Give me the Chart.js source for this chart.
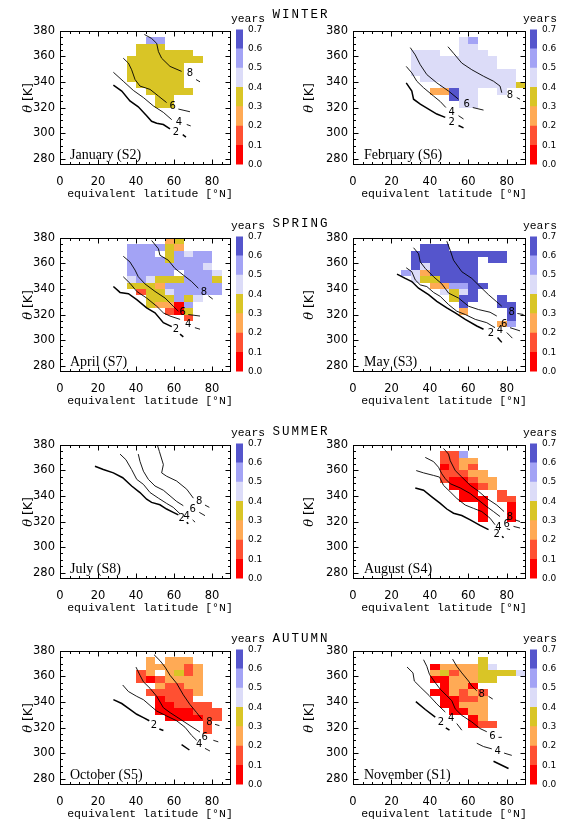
<!DOCTYPE html>
<html>
<head>
<meta charset="utf-8">
<title>Transit time by season</title>
<script src="https://cdn.jsdelivr.net/npm/chart.js@4.4.1/dist/chart.umd.min.js"></script>
<style>
  html, body { margin: 0; padding: 0; background: #fff; }
  #figure { position: relative; width: 561px; height: 820px; overflow: hidden; }
  #figure canvas { position: absolute; }
  .season, .units { position: absolute; font-family: 'Liberation Mono', monospace; color: #000; white-space: nowrap; transform: translate(-50%, -50%); }
  .season { font-size: 12.5px; letter-spacing: 2px; }
  .units { font-size: 11.3px; }
</style>
</head>
<body>
<div id="figure"></div>
<script>
// axes and colour scale
const latTicks = [0, 20, 40, 60, 80];
const thetaTicks = [280, 300, 320, 340, 360, 380];
const yearTicks = [0.0, 0.1, 0.2, 0.3, 0.4, 0.5, 0.6, 0.7];
const seasons = ['WINTER', 'SPRING', 'SUMMER', 'AUTUMN'];

// 5 deg x 5 K bins, one string per theta bin (lower edge in cellTheta),
// one character per latitude bin: band 0 = 0.0-0.1 years ... 6 = 0.6-0.7 years
const cellLat = [20, 25, 30, 35, 40, 45, 50, 55, 60, 65, 70, 75, 80, 85];
const cellTheta = [375, 370, 365, 360, 355, 350, 345, 340, 335, 330, 325, 320, 315, 310, 305, 300];

const janCells = [
  '..............',
  '.....55.......',
  '....333.......',
  '....333333....',
  '...33333333...',
  '...333333.....',
  '...333333.....',
  '...333333.....',
  '....33333.....',
  '.....33333....',
  '......33......',
  '......33......'
];
const febCells = [
  '..............',
  '.......45.....',
  '.......44.....',
  '..444..444....',
  '..444444444...',
  '..444444444...',
  '..44444444444.',
  '...4444444444.',
  '.....444444443',
  '....22644..4..',
  '......644.....',
  '.......44.....'
];
const aprCells = [
  '.......23.....',
  '...555532.....',
  '...555.35455..',
  '...555535555..',
  '...555555554..',
  '...55555.5554.',
  '...4543335553.',
  '...3332555555.',
  '....133455555.',
  '.....333534...',
  '.....32205....',
  '.......103....',
  '.........1....'
];
const mayCells = [
  '..............',
  '...666........',
  '..6666666666..',
  '..6666666.66..',
  '..6466666.....',
  '.54266666.....',
  '..4336666.....',
  '....225566....',
  '.....4346.....',
  '......366..6..',
  '.......6...66.',
  '.......2....6.',
  '............6.',
  '...........25.'
];
const julCells = [];
const augCells = [
  '..............',
  '.....115......',
  '.....1122.....',
  '.....0121.....',
  '.....11122....',
  '.....100122...',
  '......00012...',
  '.......00..1..',
  '.......000.11.',
  '.........0..0.',
  '.........0..0.',
  '.........0..0.'
];
const octCells = [
  '..............',
  '.....2.222....',
  '.....222212...',
  '....12.2312...',
  '....1012222...',
  '......21122...',
  '.....111112...',
  '......0111....',
  '......001111..',
  '......0000111.',
  '.......000011.',
  '...........1..',
  '...........1..'
];
const novCells = [
  '..............',
  '.........3....',
  '....0222234...',
  '....2312233334',
  '....0022233...',
  '.....0220.....',
  '....002121....',
  '.....00112....',
  '.....00222....',
  '......0022....',
  '........02....',
  '........011...'
];

// contour lines as [lat, theta]; label = where the level number sits, tail = short piece after it
const janContours = [
  { level: '2', line: [[28.1, 337.5], [32.5, 332.9], [36.8, 325.2], [41.2, 320.6], [45.6, 313.6], [48.2, 309.2], [50.9, 307.7], [54.4, 306.7], [57.9, 303.3]], label: [61, 300.7], tail: [[64.6, 298.7], [66.3, 296.9]] },
  { level: '4', line: [[28.1, 347.6], [33.3, 340.6], [38.6, 333.4], [43.9, 327.8], [49.1, 321.3], [54.4, 316.2], [58.8, 310.5]], label: [62.6, 308.5], tail: [[66.7, 306.7], [68.8, 305.6]] },
  { level: '6', line: [[33.3, 358.6], [36, 354.8], [37.7, 349.6], [39.5, 341.9], [42.1, 336.8], [47.4, 334.2], [51.8, 329], [56.1, 323.9]], label: [59.3, 320.6], tail: [[62.3, 318.8], [68.4, 316.7]] },
  { level: '8', line: [[44.4, 377.2], [48.2, 374.1], [50.9, 370.2], [51.8, 363.8], [53.5, 358.6], [57.9, 352.2], [64, 348.3]], label: [68.4, 347], tail: [[71.6, 341.9], [73.7, 340.1]] }
];
const febContours = [
  { level: '2', line: [[27.7, 339.3], [30.6, 332.9], [31.5, 326.5], [35, 322.6], [39.3, 318.8], [43.6, 314.9], [48, 312.3]], label: [51.4, 308.5], tail: [[54.9, 305.9], [57.5, 304.1]] },
  { level: '4', line: [[27.7, 352.2], [30.6, 347.1], [33.2, 340.6], [36.7, 335.5], [41.9, 329], [45.4, 324.7], [48.3, 320]], label: [51.4, 316.2], tail: [[54.9, 313.6], [57.5, 311]] },
  { level: '6', line: [[29.8, 366.9], [32.4, 361.2], [35, 353.5], [38.4, 345.8], [43.6, 339.3], [49.7, 332.9], [54.9, 326.5]], label: [59.2, 322.1], tail: [[62.3, 320], [67.9, 318]] },
  { level: '8', line: [[49.4, 367.6], [52.3, 362.5], [56.6, 354.8], [61.8, 349.6], [67.9, 344.5], [73.1, 340.6], [76.5, 336.8], [77.4, 331.6]], label: [81.7, 329.6], tail: [[85.2, 327.8], [86.9, 326.5]] }
];
const aprContours = [
  { level: '2', line: [[28.1, 341.9], [31.6, 337.3], [36, 336.3], [40.4, 331.6], [45.6, 325.2], [50, 321.3], [54.4, 313.6], [58.8, 310.5]], label: [61, 308], tail: [[63.2, 304.6], [64.9, 302.5]] },
  { level: '4', line: [[33.3, 349.6], [36.8, 344.5], [40.4, 338.1], [45.6, 332.9], [50.9, 326.5], [54.4, 321.3], [57.9, 318.8], [63.2, 316.2]], label: [67.5, 312.3], tail: [[71, 309.7], [73.7, 308.5]] },
  { level: '6', line: [[33.3, 365.6], [36.8, 361.2], [39.5, 354.8], [41.2, 349.6], [44.7, 344], [50, 338.1], [55.3, 332.9], [59.6, 326.5], [62.3, 322.6]], label: [64.6, 321.8], tail: [[67.5, 320], [73.7, 318.8]] },
  { level: '8', line: [[48.2, 378], [51.8, 371.5], [52.6, 366.4], [57, 362.5], [60.5, 356.1], [64.9, 350.9], [69.3, 345.8], [72.8, 340.6]], label: [75.8, 337.3], tail: [[78.1, 334.7], [80.4, 332.1]] }
];
const mayContours = [
  { level: '2', line: [[22.9, 351.7], [27.2, 348.3], [30.6, 345.8], [34.1, 340.6], [39.3, 335.5], [43.6, 330.3], [48.8, 325.2], [53.2, 321.3], [58.4, 316.2], [64.4, 311], [67.9, 308.5]], label: [71.7, 305.1], tail: [[75.2, 302], [77.4, 298.2]] },
  { level: '4', line: [[27.7, 356.6], [30.6, 353.5], [32.4, 347.1], [35, 343.2], [38.4, 341.9], [41.9, 337.3], [45.4, 334.2], [49.7, 327.8], [54, 322.6], [58.4, 320], [63.6, 316.2], [69.6, 313.6], [73.9, 309.7]], label: [76.5, 307.7], tail: [[80, 305.9], [82.9, 301.5]] },
  { level: '6', line: [[31.5, 372.3], [34.1, 367.6], [35, 361.2], [37.6, 356.1], [41.9, 349.6], [46.2, 344], [49.7, 336.8], [54.9, 332.9], [60.1, 326.5], [65.3, 323.9], [71.3, 321.8], [74.8, 318.8]], label: [78.6, 312.3], tail: [[81.7, 309.7], [86.9, 307.2]] },
  { level: '8', line: [[48.8, 377.4], [50.6, 370.2], [52.3, 362.5], [56.6, 353.5], [61.8, 348.3], [66.1, 341.9], [70.5, 335.5], [74.5, 330.3], [77.4, 326.5]], label: [82.6, 321.8], tail: [[85.5, 320.8], [88.7, 320]] }
];
const julContours = [
  { level: '2', line: [[18.4, 363.3], [22.8, 360.7], [28.1, 358.1], [33, 354.3], [37.7, 347.8], [42.1, 342.7], [45.6, 337.5], [48.2, 335], [52.6, 333.1], [56.1, 329.8], [59.6, 327.2], [62.3, 325.2]], label: [64, 322.6], tail: [[66.7, 319.5], [67.5, 318.2]] },
  { level: '4', line: [[31.6, 372.8], [34.7, 368.4], [37.7, 360.7], [40.4, 353], [43.9, 349.1], [47.4, 342.7], [51.8, 338.3], [56.1, 334.2], [59.6, 331.1], [63.2, 326]], label: [66.7, 323.9], tail: [[69.8, 321.3], [71.1, 319.5]] },
  { level: '6', line: [[41.2, 372.8], [42.1, 367.1], [43.9, 359.4], [46.5, 353], [50, 347.8], [54.4, 344.5], [57.9, 340.1], [61.4, 335.7], [64.9, 332.4]], label: [69.8, 329.8], tail: [[73.3, 327.2], [76.3, 324.6]] },
  { level: '8', line: [[51.2, 380], [52.3, 374.9], [54.4, 364.6], [53.5, 358.1], [56.1, 355.5], [61.4, 351.7], [66.7, 345.3], [70.2, 338.3]], label: [73.3, 335.7], tail: [[76.3, 332.9], [78.6, 331.1]] }
];
const augContours = [
  { level: '2', line: [[32.4, 346.3], [36.7, 344.5], [41, 339.3], [45.4, 334.2], [48.8, 329.8], [52.3, 326.5], [56.6, 324.7], [61, 321.3], [66.1, 317], [70.5, 313.6]], label: [74.8, 310.3], tail: [[77.6, 308.4], [78.3, 307.2]] },
  { level: '4', line: [[32.9, 359.9], [36.7, 358.1], [41.9, 356.1], [45, 354.8], [47.1, 348.3], [50.6, 343.2], [54, 338.1], [58.4, 332.9], [62.7, 330.3], [67, 327.8], [71.3, 322.6], [73.9, 317.5]], label: [75.7, 315.4], tail: [[80, 314.4], [81.7, 313.6]] },
  { level: '6', line: [[37.6, 370.2], [41.9, 366.9], [44.5, 362.5], [46.2, 357.4], [48, 353.5], [50.6, 349.6], [55.8, 346.3], [61, 341.9], [65.3, 336.8], [69.6, 331.6], [73.1, 327.8], [76.5, 323.9]], label: [80, 317.5], tail: [[83.5, 316.2], [86.9, 314.9]] },
  { level: '8', line: [[47.1, 377.2], [49.7, 372.8], [50.6, 367.6], [53.2, 359.9], [56.6, 354.8], [61, 348.3], [65.3, 343.7], [69.6, 338.1], [74.8, 332.9], [78.6, 327.8]], label: [81.7, 323.1], tail: [[84.3, 321.3], [86.9, 320]] }
];
const octContours = [
  { level: '2', line: [[28.1, 341.8], [32.5, 338.8], [36.8, 334.2], [40.4, 330.4], [43.9, 327.8], [47, 325.3]], label: [49.5, 322], tail: [[52.3, 318.9], [54.4, 317.7]] },
  { level: '2', line: [[64, 306.6], [68.1, 302.4]] },
  { level: '4', line: [[33, 353.3], [36, 348.2], [40.4, 344.4], [43.9, 341.8], [47.4, 337.3], [50.9, 332.9], [56.1, 329.1], [61.4, 325.3], [65.8, 320.2], [69.3, 313.8], [71.9, 310]], label: [73.2, 306.7], tail: [[76.3, 303.7], [78.9, 301.6]] },
  { level: '6', line: [[40, 367.3], [42.1, 360.9], [43.9, 355.8], [47.4, 350.7], [50.9, 344.4], [54.4, 335.5], [57.9, 331.7], [63.2, 326.6], [68.4, 321.5], [73.7, 316.4]], label: [76.1, 312.6], tail: [[80.7, 310], [83.3, 308.8]] },
  { level: '8', line: [[49.5, 377], [52.6, 372.4], [55.3, 367.3], [57.9, 360.9], [61.4, 354.6], [64.9, 345.6], [68.4, 338], [71.9, 331.7], [74.6, 326.6]], label: [78.6, 324], tail: [[81.6, 322.5], [83.9, 321.5]] }
];
const novContours = [
  { level: '2', line: [[32.7, 340.3], [37.6, 334.1], [42.8, 328.2]], label: [45.7, 323.8], tail: [[48.3, 319.7], [50.2, 317.9]] },
  { level: '2', line: [[73.1, 293.6], [80.9, 287.9]] },
  { level: '4', line: [[28.1, 367.4], [31.2, 362.8], [31.9, 356.4], [35.3, 351.3], [39.7, 344.9], [43.6, 338.5], [48, 332.1]], label: [51.1, 326.9], tail: [[54, 323.1], [56.6, 317.9]] },
  { level: '4', line: [[64.4, 307.7], [67.9, 305.1], [72.2, 303.3]], label: [75.3, 301.3], tail: [[78.6, 300], [82.6, 298.2]] },
  { level: '6', line: [[36.7, 373.1], [38.4, 367.9], [39.8, 361.5], [42.8, 355.1], [45.4, 350], [48.8, 344.9], [51.4, 341], [53.2, 334.6], [56.6, 329.5], [61.8, 324.4], [66.1, 319.2], [69.6, 316.7]], label: [72.6, 312.8], tail: [[75.7, 312.3], [77.4, 312.3]] },
  { level: '8', line: [[51.8, 373.6], [54, 367.9], [56.6, 362.8], [60.1, 356.4], [61.8, 352.6], [64.4, 348.7]], label: [67, 346.2], tail: [[70.5, 344.4], [72.7, 342.3]] }
];

const panels = [
  { title: 'January (S2)', cells: janCells, contours: janContours },
  { title: 'February (S6)', cells: febCells, contours: febContours },
  { title: 'April (S7)', cells: aprCells, contours: aprContours },
  { title: 'May (S3)', cells: mayCells, contours: mayContours },
  { title: 'July (S8)', cells: julCells, contours: julContours },
  { title: 'August (S4)', cells: augCells, contours: augContours },
  { title: 'October (S5)', cells: octCells, contours: octContours },
  { title: 'November (S1)', cells: novCells, contours: novContours }
];

// look
const bandColors = ['#ff0000', '#ff5032', '#ffaa55', '#d9c526', '#dcdcf8', '#a3a3f5', '#5555cc'];
const BIN_LAT = 5, BIN_THETA = 5;
const MINOR_LAT = 5, MINOR_THETA = 5;
const axisFont = { family: 'DejaVu Sans', size: 11.5 };
const X_TITLE = 'equivalent latitude [°N]';

// page layout
const columns = [
  { left: 60, right: 231, canvasLeft: 17, titleX: 28.5, bar: 236, units: 248, labelDx: 10 },
  { left: 353, right: 526, canvasLeft: 299, titleX: 310, bar: 530, units: 540, labelDx: 11 }
];
const rowTops = [29, 236, 443, 649];
const seasonY = [15, 224, 432, 639];
const PLOT_H = 136;

const fig = document.getElementById('figure');

function addCanvas(left, top, width, height) {
  const c = document.createElement('canvas');
  c.width = width;
  c.height = height;
  c.style.left = left + 'px';
  c.style.top = top + 'px';
  c.style.width = width + 'px';
  c.style.height = height + 'px';
  fig.appendChild(c);
  return c;
}

function addText(cls, text, x, y) {
  const d = document.createElement('div');
  d.className = cls;
  d.textContent = text;
  d.style.left = x + 'px';
  d.style.top = y + 'px';
  fig.appendChild(d);
}

// draws the binned cells under the contours, then frame, ticks and labels on top
function panelPlugin(panel, col) {
  return {
    id: 'panel',
    beforeDatasetsDraw(chart) {
      const { ctx, chartArea: a, scales: { x, y } } = chart;
      ctx.save();
      ctx.beginPath();
      ctx.rect(a.left, a.top, a.right - a.left, a.bottom - a.top);
      ctx.clip();
      panel.cells.forEach((row, r) => {
        for (let c = 0; c < row.length; c++) {
          const band = row[c];
          if (band === '.') continue;
          const x0 = Math.round(x.getPixelForValue(cellLat[c]));
          const x1 = Math.round(x.getPixelForValue(cellLat[c] + BIN_LAT));
          const y0 = Math.round(y.getPixelForValue(cellTheta[r] + BIN_THETA));
          const y1 = Math.round(y.getPixelForValue(cellTheta[r]));
          ctx.fillStyle = bandColors[+band];
          ctx.fillRect(x0, y0, x1 - x0, y1 - y0);
        }
      });
      ctx.restore();
    },
    afterDatasetsDraw(chart) {
      const { ctx, chartArea: a, scales: { x, y } } = chart;
      ctx.save();

      ctx.fillStyle = '#000';
      ctx.font = '10px "DejaVu Sans"';
      ctx.textAlign = 'center';
      ctx.textBaseline = 'middle';
      panel.contours.forEach(c => {
        if (c.label) ctx.fillText(c.level, x.getPixelForValue(c.label[0]), y.getPixelForValue(c.label[1]));
      });

      // frame with inward ticks on all four sides
      const L = Math.round(a.left) + 0.5, R = Math.round(a.right) - 0.5;
      const T = Math.round(a.top) + 0.5, B = Math.round(a.bottom) - 0.5;
      ctx.strokeStyle = '#000';
      ctx.lineWidth = 1;
      ctx.strokeRect(L, T, R - L, B - T);
      ctx.beginPath();
      for (let v = x.min + MINOR_LAT; v < x.max; v += MINOR_LAT) {
        const len = latTicks.includes(v) ? 5 : 2.5;
        const px = Math.round(x.getPixelForValue(v)) + 0.5;
        ctx.moveTo(px, B); ctx.lineTo(px, B - len);
        ctx.moveTo(px, T); ctx.lineTo(px, T + len);
      }
      for (let v = y.min + MINOR_THETA; v < y.max; v += MINOR_THETA) {
        const len = thetaTicks.includes(v) ? 5 : 2.5;
        const py = Math.round(y.getPixelForValue(v)) + 0.5;
        ctx.moveTo(L, py); ctx.lineTo(L + len, py);
        ctx.moveTo(R, py); ctx.lineTo(R - len, py);
      }
      ctx.stroke();

      // panel name
      ctx.font = '14px "Liberation Serif"';
      ctx.textAlign = 'left';
      ctx.textBaseline = 'alphabetic';
      ctx.fillText(panel.title, a.left + col.labelDx, a.bottom - 6);

      // axis titles
      ctx.font = '11.5px "Liberation Mono"';
      ctx.textAlign = 'center';
      ctx.textBaseline = 'middle';
      ctx.fillText(X_TITLE, (a.left + a.right) / 2 + 4.5, a.bottom + 29);

      ctx.translate(col.titleX - col.canvasLeft, (a.top + a.bottom) / 2);
      ctx.rotate(-Math.PI / 2);
      const sym = 'italic 13px "DejaVu Serif"', unit = '12.5px "DejaVu Sans"';
      ctx.font = sym;
      const w1 = ctx.measureText('θ').width;
      ctx.font = unit;
      const w2 = ctx.measureText(' [K]').width;
      ctx.textAlign = 'left';
      ctx.font = sym;
      ctx.fillText('θ', -(w1 + w2) / 2, 0);
      ctx.font = unit;
      ctx.fillText(' [K]', -(w1 + w2) / 2 + w1, 0);
      ctx.restore();
    }
  };
}

function drawPanel(panel, col, top) {
  const width = col.right - col.canvasLeft + 6;
  const canvas = addCanvas(col.canvasLeft, top - 10, width, PLOT_H + 50);

  const datasets = [];
  panel.contours.forEach(c => {
    const w = c.level === '2' ? 1.5 : 0.9;
    [c.line, c.tail].forEach(seg => {
      if (!seg) return;
      datasets.push({
        data: seg.map(([lat, th]) => ({ x: lat, y: th })),
        borderColor: '#000',
        borderWidth: w,
        showLine: true,
        pointRadius: 0,
        tension: 0
      });
    });
  });

  new Chart(canvas, {
    type: 'scatter',
    data: { datasets },
    options: {
      responsive: false,
      animation: false,
      events: [],
      layout: { padding: { top: 10, right: 6, bottom: 0, left: 0 } },
      plugins: { legend: { display: false }, tooltip: { enabled: false } },
      scales: {
        x: {
          type: 'linear', min: 0, max: 90,
          grid: { display: false, drawTicks: false }, border: { display: false },
          ticks: { color: '#000', font: axisFont, padding: 10, maxRotation: 0 },
          afterBuildTicks: s => { s.ticks = latTicks.map(v => ({ value: v })); },
          afterFit: s => { s.height = 40; }
        },
        y: {
          type: 'linear', min: 275, max: 380,
          grid: { display: false, drawTicks: false }, border: { display: false },
          ticks: { color: '#000', font: axisFont, padding: 5 },
          afterBuildTicks: s => { s.ticks = thetaTicks.map(v => ({ value: v })); },
          afterFit: s => { s.width = col.left - col.canvasLeft; }
        }
      }
    },
    plugins: [panelPlugin(panel, col)]
  });
}

// colour scale: one floating bar per band
function drawColorbar(col, top) {
  const canvas = addCanvas(col.bar, top - 10, 35, PLOT_H + 20);
  new Chart(canvas, {
    type: 'bar',
    data: {
      labels: ['years'],
      datasets: bandColors.map((c, i) => ({
        data: [[yearTicks[i], yearTicks[i + 1]]],
        backgroundColor: c,
        borderWidth: 0,
        barPercentage: 1,
        categoryPercentage: 1,
        grouped: false
      }))
    },
    options: {
      responsive: false,
      animation: false,
      events: [],
      layout: { padding: { top: 10, bottom: 10, left: 0, right: 0 } },
      plugins: { legend: { display: false }, tooltip: { enabled: false } },
      scales: {
        x: { display: false },
        y: {
          position: 'right', min: 0, max: 0.7,
          grid: { display: false, drawTicks: false }, border: { display: false },
          ticks: { color: '#000', font: { family: 'DejaVu Sans', size: 9 }, padding: 5, callback: v => v.toFixed(1) },
          afterBuildTicks: s => { s.ticks = yearTicks.map(v => ({ value: v })); },
          afterFit: s => { s.width = 28; }
        }
      }
    }
  });
  addText('units', 'years', col.units, top - 10.5);
}

panels.forEach((panel, i) => {
  const col = columns[i % 2];
  const top = rowTops[Math.floor(i / 2)];
  drawPanel(panel, col, top);
  drawColorbar(col, top);
});

seasons.forEach((s, i) => addText('season', s, 301, seasonY[i]));
</script>
</body>
</html>
